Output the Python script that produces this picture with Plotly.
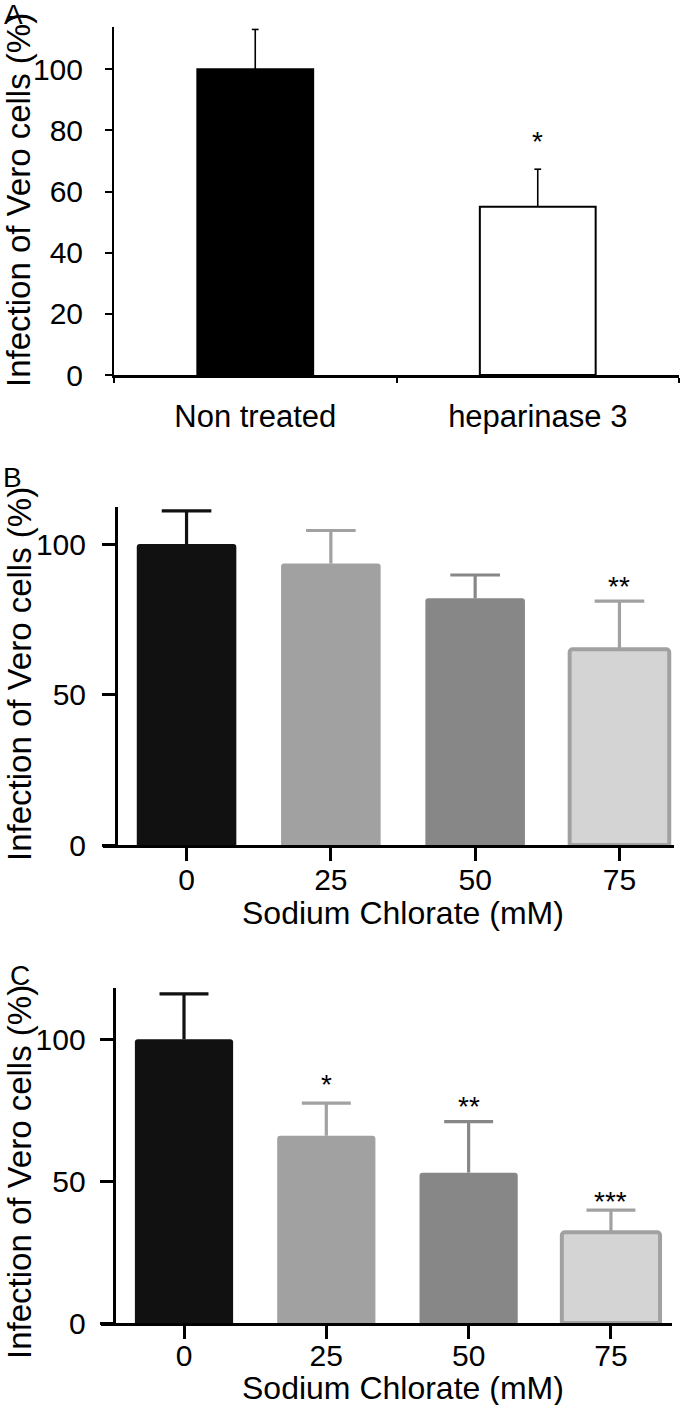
import plotly.graph_objects as go

W, H = 680, 1405

# ---------------- data ----------------
a_categories = ["Non treated", "heparinase 3"]
a_values = [100, 55]
a_errors = [13, 12.3]
a_stars = ["", "*"]
a_star_y = [None, 77.5]

conc_labels = ["0", "25", "50", "75"]
b_values = [100, 93.5, 82, 65]
b_errors = [11, 11, 7.7, 16]
b_stars = ["", "", "", "**"]
b_star_y = [None, None, None, 87]

c_values = [100, 66, 53, 32]
c_errors = [16, 11.5, 18, 7.8]
c_stars = ["", "*", "**", "***"]
c_star_y = [None, 85, 77.5, 44]

bar_fill = ["#111111", "#a1a1a1", "#878787", "#d4d4d4"]
bar_line = ["#111111", "#a1a1a1", "#878787", "#a1a1a1"]
bar_line_w = [0, 0, 0, 4]

FONT = "Arial, Liberation Sans, sans-serif"


def px_x(x):
    return x / W


def px_y(y):
    return 1 - y / H


fig = go.Figure()


def add_err(xc, v, e, half, xa, ya, color, lw):
    # stem from bar top to the cap, then the cap
    fig.add_trace(go.Scatter(x=[xc, xc], y=[v, v + e], xaxis=xa, yaxis=ya, mode="lines",
                             line=dict(color=color, width=lw), showlegend=False,
                             hoverinfo="skip"))
    fig.add_trace(go.Scatter(x=[xc - half, xc + half], y=[v + e, v + e], xaxis=xa, yaxis=ya,
                             mode="lines", line=dict(color=color, width=lw),
                             showlegend=False, hoverinfo="skip"))


# ---------------- panel A ----------------
a_fill = ["#000000", "#ffffff"]
for i in range(2):
    fig.add_trace(go.Bar(
        x=[i], y=[a_values[i]], xaxis="x", yaxis="y", width=0.41,
        marker=dict(color=a_fill[i], line=dict(color="#000000", width=2)),
        showlegend=False, hoverinfo="skip"))
for i in range(2):
    add_err(i, a_values[i], a_errors[i], 0.012, "x", "y", "#000000", 1.6)

# ---------------- panels B & C ----------------
for vals, errs, xa, ya in [(b_values, b_errors, "x2", "y2"), (c_values, c_errors, "x3", "y3")]:
    for i in range(4):
        fig.add_trace(go.Bar(
            x=[i], y=[vals[i]], xaxis=xa, yaxis=ya, width=0.69,
            marker=dict(color=bar_fill[i], line=dict(color=bar_line[i], width=bar_line_w[i]),
                        cornerradius=3),
            showlegend=False, hoverinfo="skip"))
    for i in range(4):
        add_err(i, vals[i], errs[i], 0.172, xa, ya, bar_line[i], 3.2)

axis_common = dict(showgrid=False, zeroline=False, showline=True, linecolor="#000000",
                   ticks="outside", tickcolor="#000000", fixedrange=True, automargin=False)

fig.update_layout(
    template="none",
    width=W, height=H, margin=dict(l=0, r=0, t=0, b=0, pad=0),
    paper_bgcolor="#ffffff", plot_bgcolor="rgba(0,0,0,0)",
    font=dict(family=FONT, color="#000000"),
    barmode="overlay", showlegend=False,
    xaxis=dict(**axis_common, domain=[px_x(114), px_x(679)], anchor="y",
               range=[-0.5, 1.5], tickvals=[0, 1], ticktext=a_categories,
               linewidth=2.5, tickwidth=2, ticklen=0,
               tickfont=dict(size=31), ticklabelstandoff=12),
    yaxis=dict(**axis_common, domain=[px_y(375), px_y(27)], anchor="x",
               range=[0, 113.8], tickvals=[0, 20, 40, 60, 80, 100],
               linewidth=2, tickwidth=2, ticklen=7,
               tickfont=dict(size=30), ticklabelstandoff=16),
    # boundary ticks for panel A
    xaxis4=dict(**axis_common, domain=[px_x(114), px_x(679)], anchor="y", overlaying="x",
                range=[-0.5, 1.5], tickvals=[-0.5, 0.5, 1.5], showticklabels=False,
                linewidth=2.5, tickwidth=2, ticklen=5),
    xaxis2=dict(**axis_common, domain=[px_x(103), px_x(674)], anchor="y2",
                range=[-0.579, 3.378], tickvals=[0, 1, 2, 3], ticktext=conc_labels,
                linewidth=3, tickwidth=3, ticklen=13,
                tickfont=dict(size=30), ticklabelstandoff=-7),
    yaxis2=dict(**axis_common, domain=[px_y(845), px_y(507)], anchor="free",
                position=px_x(116), range=[0, 112.3], tickvals=[0, 50, 100],
                linewidth=3, tickwidth=3, ticklen=13,
                tickfont=dict(size=30), ticklabelstandoff=10),
    xaxis3=dict(**axis_common, domain=[px_x(100.6), px_x(672)], anchor="y3",
                range=[-0.586, 3.429], tickvals=[0, 1, 2, 3], ticktext=conc_labels,
                linewidth=3, tickwidth=3, ticklen=13,
                tickfont=dict(size=30), ticklabelstandoff=-9),
    yaxis3=dict(**axis_common, domain=[px_y(1323), px_y(988)], anchor="free",
                position=px_x(113.6), range=[0, 118.1], tickvals=[0, 50, 100],
                linewidth=3, tickwidth=3, ticklen=13,
                tickfont=dict(size=30), ticklabelstandoff=8),
)

# invisible trace so xaxis4 is drawn
fig.add_trace(go.Scatter(x=[0], y=[0], xaxis="x4", yaxis="y", mode="markers",
                         marker=dict(opacity=0), showlegend=False, hoverinfo="skip"))

ann = []
for cat_i, (s, sy) in enumerate(zip(a_stars, a_star_y)):
    if s:
        ann.append(dict(x=cat_i, y=sy, xref="x", yref="y", text=s, showarrow=False,
                        font=dict(size=28), yshift=-3))
for i, (s, sy) in enumerate(zip(b_stars, b_star_y)):
    if s:
        ann.append(dict(x=i, y=sy, xref="x2", yref="y2", text=s, showarrow=False,
                        font=dict(size=28), yshift=-3))
for i, (s, sy) in enumerate(zip(c_stars, c_star_y)):
    if s:
        ann.append(dict(x=i, y=sy, xref="x3", yref="y3", text=s, showarrow=False,
                        font=dict(size=28), yshift=-3))

ytitle = "Infection of Vero cells (%)"
for cy in [200, 674, 1172]:
    ann.append(dict(x=px_x(19), y=px_y(cy), xref="paper", yref="paper", text=ytitle,
                    textangle=-90, showarrow=False, font=dict(size=33),
                    xanchor="center", yanchor="middle"))
for cy in [913, 1388]:
    ann.append(dict(x=px_x(403), y=px_y(cy), xref="paper", yref="paper",
                    text="Sodium Chlorate (mM)", showarrow=False, font=dict(size=32),
                    xanchor="center", yanchor="middle"))
for letter, lx, ly in [("A", 13, 15), ("B", 12, 478), ("C", 20, 975)]:
    ann.append(dict(x=px_x(lx), y=px_y(ly), xref="paper", yref="paper", text=letter,
                    showarrow=False, font=dict(size=28), xanchor="center", yanchor="middle"))

fig.update_layout(annotations=ann)

fig.write_html("out.html", config={"displayModeBar": False},
               post_script="document.body.style.margin='0';document.body.style.padding='0';")
